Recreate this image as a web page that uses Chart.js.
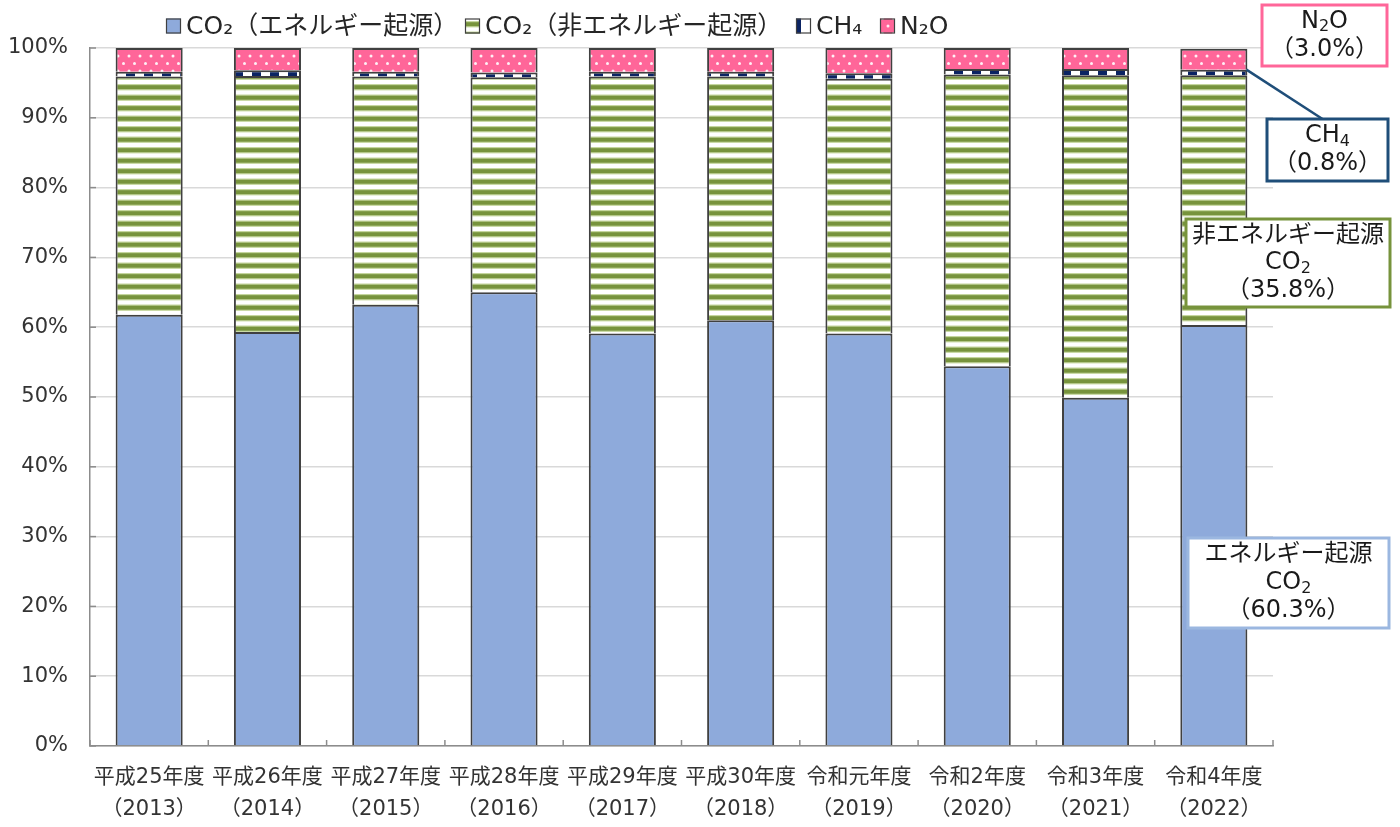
<!DOCTYPE html>
<html>
<head>
<meta charset="utf-8">
<script src="https://cdn.jsdelivr.net/npm/chart.js@4/dist/chart.umd.min.js"></script>
<style>
  html, body { margin: 0; padding: 0; background: #ffffff; }
  #wrap { width: 1400px; height: 827px; }
</style>
</head>
<body>
<div id="wrap"><canvas id="c" width="1400" height="827"></canvas></div>
<script>
// Fiscal years (era name + western year)
const eraLabels = ['平成25年度', '平成26年度', '平成27年度', '平成28年度', '平成29年度',
                   '平成30年度', '令和元年度', '令和2年度', '令和3年度', '令和4年度'];
const yearLabels = ['（2013）', '（2014）', '（2015）', '（2016）', '（2017）',
                    '（2018）', '（2019）', '（2020）', '（2021）', '（2022）'];

// Share of total emissions by gas (%)
const energyCO2    = [61.8, 59.3, 63.2, 65.0, 59.1, 61.0, 59.1, 54.4, 49.9, 60.3];
const nonEnergyCO2 = [34.1, 36.7, 32.7, 30.8, 36.8, 34.9, 36.5, 41.8, 46.2, 35.8];
const ch4          = [0.7, 0.8, 0.7, 0.7, 0.7, 0.7, 0.8, 0.8, 0.9, 0.8];
const n2o          = [3.4, 3.2, 3.4, 3.5, 3.4, 3.4, 3.6, 3.0, 3.0, 3.0];

const seriesNames = ['CO₂（エネルギー起源）', 'CO₂（非エネルギー起源）', 'CH₄', 'N₂O'];
const yTickValues = [0, 10, 20, 30, 40, 50, 60, 70, 80, 90, 100];

const FONT = '"DejaVu Sans", "Noto Sans CJK JP", sans-serif';
const AXIS_GREY = '#8c8c8c';

// ---- fill patterns ----
function makePattern(w, h, paint) {
  const cv = document.createElement('canvas');
  cv.width = w; cv.height = h;
  const g = cv.getContext('2d');
  paint(g, w, h);
  return g.createPattern(cv, 'repeat');
}
const ctx = document.getElementById('c').getContext('2d');

const solidBlue = '#8eaadb';
const stripeGreen = makePattern(8, 21, (g, w, h) => {
  g.fillStyle = '#ffffff'; g.fillRect(0, 0, w, h);
  for (let k = 0; k < 2; k++) {
    const y0 = k * 10.5;
    g.fillStyle = '#c5d69e'; g.fillRect(0, y0, w, 6.4);
    g.fillStyle = '#77933c'; g.fillRect(0, y0 + 1.2, w, 4);
  }
});
const dashNavy = makePattern(18, 4, (g, w, h) => {
  g.fillStyle = '#ffffff'; g.fillRect(0, 0, w, h);
  g.fillStyle = '#0b2463'; g.fillRect(0, 0, 9, 4);
});
const dotPink = makePattern(11, 15, (g, w, h) => {
  g.fillStyle = '#ff6699'; g.fillRect(0, 0, w, h);
  g.fillStyle = '#fff0f5';
  g.beginPath(); g.arc(2.5, 3.5, 1.5, 0, Math.PI * 2); g.fill();
  g.beginPath(); g.arc(8, 11, 1.5, 0, Math.PI * 2); g.fill();
});
const fills = [solidBlue, stripeGreen, dashNavy, dotPink];

// ---- text with subscripts: "_" marks the next character as a subscript ----
function parseRich(s) {
  const parts = [];
  for (let i = 0; i < s.length; i++) {
    if (s[i] === '_' && i + 1 < s.length) { parts.push({ t: s[i + 1], sub: true }); i++; }
    else {
      const last = parts[parts.length - 1];
      if (last && !last.sub) last.t += s[i]; else parts.push({ t: s[i], sub: false });
    }
  }
  return parts;
}
function drawRich(g, str, cx, cy, size) {
  const parts = parseRich(str);
  let total = 0;
  parts.forEach(p => {
    g.font = (p.sub ? Math.round(size * 0.66) : size) + 'px ' + FONT;
    p.w = g.measureText(p.t).width; total += p.w;
  });
  let x = cx - total / 2;
  g.textAlign = 'left'; g.textBaseline = 'middle';
  parts.forEach(p => {
    g.font = (p.sub ? Math.round(size * 0.66) : size) + 'px ' + FONT;
    g.fillText(p.t, x, p.sub ? cy + size * 0.24 : cy);
    x += p.w;
  });
}

// ---- legend along the top ----
const legendIconX = [166, 465, 796, 880];
const legendPlugin = {
  id: 'topLegend',
  afterDraw(chart) {
    const g = chart.ctx;
    g.save();
    const cy = 26, box = 15;
    seriesNames.forEach((name, i) => {
      const x = legendIconX[i];
      g.fillStyle = fills[i];
      g.fillRect(x, cy - box / 2, box, box);
      g.strokeStyle = '#404040'; g.lineWidth = 1.2;
      g.strokeRect(x + 0.5, cy - box / 2 + 0.5, box - 1, box - 1);
      g.fillStyle = '#262626';
      g.textAlign = 'left'; g.textBaseline = 'middle';
      g.font = '25px ' + FONT;
      g.fillText(name, x + box + 5, cy + 1);
    });
    g.restore();
  }
};

// ---- short inward tick marks on both axes ----
const innerTicks = {
  id: 'innerTicks',
  afterDatasetsDraw(chart) {
    const g = chart.ctx, a = chart.chartArea;
    const xs = chart.scales.x, ys = chart.scales.y;
    g.save();
    g.strokeStyle = AXIS_GREY; g.lineWidth = 1.5;
    const n = xs.ticks.length;
    const step = (a.right - a.left) / n;
    for (let i = 0; i <= n; i++) {
      const x = a.left + i * step;
      g.beginPath(); g.moveTo(x, a.bottom); g.lineTo(x, a.bottom - 6); g.stroke();
    }
    yTickValues.forEach(v => {
      const y = ys.getPixelForValue(v);
      g.beginPath(); g.moveTo(a.left, y); g.lineTo(a.left + 6, y); g.stroke();
    });
    g.restore();
  }
};

// ---- callout boxes for the latest year ----
const last = eraLabels.length - 1;
const callouts = [
  { lines: ['N_2O', '（' + n2o[last].toFixed(1) + '%）'], box: [1262, 5, 125, 61], color: '#ff6699', lh: 28 },
  { lines: ['CH_4', '（' + ch4[last].toFixed(1) + '%）'], box: [1267, 119, 121, 62], color: '#1f4e79', lh: 28, leader: true },
  { lines: ['非エネルギー起源', 'CO_2', '（' + nonEnergyCO2[last].toFixed(1) + '%）'], box: [1186, 219, 204, 88], color: '#77933c', lh: 27.5 },
  { lines: ['エネルギー起源', 'CO_2', '（' + energyCO2[last].toFixed(1) + '%）'], box: [1188, 538, 201, 90], color: '#9bb7e0', lh: 28 }
];
const calloutPlugin = {
  id: 'callouts',
  afterDraw(chart) {
    const g = chart.ctx;
    g.save();
    callouts.forEach(c => {
      const [bx, by, bw, bh] = c.box;
      if (c.leader) {
        const bar = chart.getDatasetMeta(2).data[last];
        g.strokeStyle = c.color; g.lineWidth = 2.5;
        g.beginPath();
        g.moveTo(bar.x + bar.width / 2 - 1, bar.y);
        g.lineTo(bx + bw / 2 - 5, by);
        g.stroke();
      }
      g.fillStyle = '#ffffff';
      g.fillRect(bx, by, bw, bh);
      g.strokeStyle = c.color; g.lineWidth = 3;
      g.strokeRect(bx, by, bw, bh);
      g.fillStyle = '#1a1a1a';
      const cx = bx + bw / 2;
      const top = by + bh / 2 - (c.lines.length - 1) * c.lh / 2;
      c.lines.forEach((ln, i) => drawRich(g, ln, cx, top + i * c.lh, 24));
    });
    g.restore();
  }
};

new Chart(ctx, {
  type: 'bar',
  data: {
    labels: eraLabels.map((e, i) => [e, yearLabels[i]]),
    datasets: [
      { label: seriesNames[0], data: energyCO2, backgroundColor: fills[0] },
      { label: seriesNames[1], data: nonEnergyCO2, backgroundColor: fills[1] },
      { label: seriesNames[2], data: ch4, backgroundColor: fills[2] },
      { label: seriesNames[3], data: n2o, backgroundColor: fills[3] }
    ]
  },
  options: {
    responsive: false,
    animation: false,
    devicePixelRatio: 1,
    layout: { padding: { left: 0, right: 127, top: 48, bottom: 0 } },
    datasets: {
      bar: {
        barPercentage: 0.567,
        categoryPercentage: 1,
        borderWidth: { top: 2, left: 2, right: 2, bottom: 0 },
        borderColor: '#404040',
        borderSkipped: false
      }
    },
    plugins: { legend: { display: false }, tooltip: { enabled: false } },
    scales: {
      x: {
        stacked: true,
        grid: { display: false },
        border: { display: true, color: AXIS_GREY, width: 1.5 },
        ticks: {
          color: '#333333',
          font: { family: FONT, size: 21, lineHeight: 1.52 },
          padding: 8,
          maxRotation: 0,
          autoSkip: false
        },
        afterFit: s => { s.height = 81; }
      },
      y: {
        stacked: true,
        min: 0,
        max: 100,
        afterBuildTicks: s => { s.ticks = yTickValues.map(v => ({ value: v })); },
        ticks: {
          callback: v => v + '%',
          color: '#333333',
          font: { family: FONT, size: 21 },
          padding: 22
        },
        grid: { color: '#d9d9d9', lineWidth: 1.5, drawTicks: false },
        border: { display: true, color: AXIS_GREY, width: 1.5 },
        afterFit: s => { s.width = 90; }
      }
    }
  },
  plugins: [innerTicks, calloutPlugin, legendPlugin]
});
</script>
</body>
</html>
